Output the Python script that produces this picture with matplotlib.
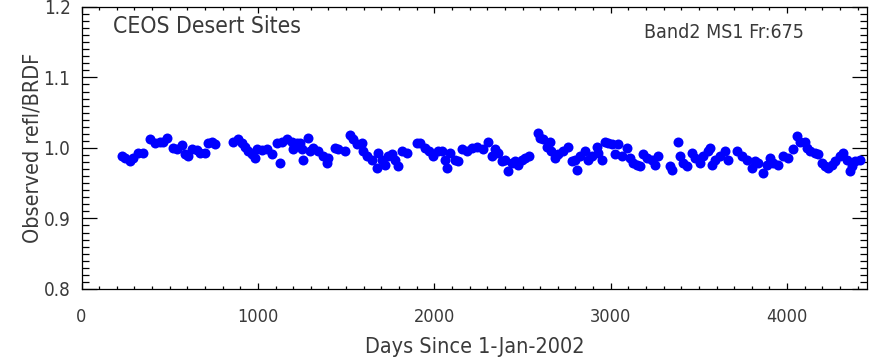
import matplotlib
matplotlib.use("Agg")
import matplotlib.pyplot as plt
from matplotlib.ticker import MultipleLocator

plt.rcParams['font.family'] = ['DejaVu Sans']
plt.rcParams['font.stretch'] = 'condensed'

days = [228, 247, 275, 294, 322, 351, 388, 417, 445, 464, 487, 521, 540, 568, 587, 606,
        625, 653, 672, 700, 719, 738, 757, 861, 889, 908, 927, 946, 965, 984, 993, 1022,
        1050, 1078, 1107, 1126, 1135, 1163, 1192, 1201, 1220, 1239, 1248, 1258, 1286, 1296,
        1314, 1343, 1371, 1390, 1400, 1437, 1456, 1494, 1522, 1541, 1560, 1589, 1598, 1617,
        1645, 1674, 1683, 1702, 1721, 1740, 1759, 1777, 1796, 1815, 1844, 1900, 1919, 1948,
        1967, 1995, 2023, 2042, 2061, 2071, 2090, 2118, 2137, 2156, 2184, 2212, 2241,
        2278, 2306, 2325, 2344, 2363, 2382, 2400, 2419, 2438, 2457, 2476, 2495, 2514, 2538,
        2589, 2599, 2618, 2637, 2656, 2660, 2684, 2703, 2731, 2760, 2778, 2797, 2807, 2826,
        2854, 2873, 2892, 2920, 2930, 2949, 2967, 2986, 3005, 3024, 3043, 3062, 3090, 3109,
        3128, 3147, 3166, 3185, 3204, 3232, 3251, 3270, 3336, 3345, 3383, 3393, 3412, 3431,
        3459, 3478, 3506, 3525, 3553, 3563, 3572, 3591, 3620, 3648, 3667, 3714, 3742, 3771,
        3799, 3818, 3837, 3865, 3884, 3903, 3922, 3950, 3979, 4007, 4035, 4054, 4073, 4101,
        4111, 4130, 4158, 4177, 4196, 4215, 4234, 4253, 4272, 4300, 4319, 4338, 4357, 4366,
        4385, 4413]

refl = [0.988, 0.986, 0.981, 0.986, 0.993, 0.993, 1.013, 1.007, 1.009, 1.009, 1.014, 1.000,
        0.999, 1.004, 0.991, 0.988, 0.998, 0.997, 0.993, 0.993, 1.007, 1.009, 1.005, 1.008,
        1.013, 1.007, 1.002, 0.995, 0.991, 0.986, 0.998, 0.997, 0.998, 0.991, 1.007, 0.979,
        1.009, 1.012, 1.009, 0.998, 1.007, 1.007, 0.998, 0.983, 1.014, 0.995, 1.000, 0.995,
        0.988, 0.979, 0.986, 1.000, 0.998, 0.995, 1.019, 1.012, 1.005, 1.007, 0.995, 0.988,
        0.983, 0.972, 0.993, 0.983, 0.976, 0.988, 0.991, 0.983, 0.974, 0.995, 0.993, 1.007,
        1.007, 1.000, 0.995, 0.988, 0.995, 0.995, 0.983, 0.972, 0.993, 0.983, 0.981, 0.998,
        0.995, 1.000, 1.002,
        0.998, 1.009, 0.988, 0.998, 0.993, 0.981, 0.983, 0.967, 0.979, 0.981, 0.976, 0.983,
        0.986, 0.988, 1.021, 1.014, 1.012, 1.002, 1.009, 0.995, 0.986, 0.991, 0.995, 1.002,
        0.981, 0.983, 0.969, 0.988, 0.995, 0.983, 0.988, 1.002, 0.993, 0.983, 1.009, 1.007,
        1.005, 0.991, 1.005, 0.988, 1.000, 0.986, 0.979, 0.976, 0.974, 0.991, 0.986, 0.983,
        0.976, 0.988, 0.974, 0.969, 1.009, 0.988, 0.979, 0.974, 0.993, 0.986, 0.979, 0.988,
        0.995, 1.000, 0.976, 0.983, 0.988, 0.995, 0.983, 0.995, 0.988, 0.983, 0.972, 0.981,
        0.979, 0.965, 0.976, 0.986, 0.979, 0.976, 0.988, 0.986, 0.998, 1.017, 1.009, 1.009,
        1.000, 0.995, 0.993, 0.991, 0.979, 0.974, 0.972, 0.976, 0.981, 0.988, 0.993, 0.983,
        0.967, 0.974, 0.981, 0.983]

x_ticks = [0, 1000, 2000, 3000, 4000]
y_ticks = [0.8, 0.9, 1.0, 1.1, 1.2]
title_left = "CEOS Desert Sites"
title_right = "Band2 MS1 Fr:675"
xlabel = "Days Since 1-Jan-2002"
ylabel = "Observed refl/BRDF"

txt = '#3a3a3a'
fig = plt.figure(figsize=(8.77, 3.63), dpi=100)
ax = fig.add_axes([0.093, 0.204, 0.8956, 0.777])
ax.plot(days, refl, 'o', color='#0000ff', ms=7.2, mec='#0000ff', mew=0)

ax.set_xlim(0, 4453)
ax.set_ylim(0.8, 1.2)
ax.set_xticks(x_ticks)
ax.set_xticklabels([str(v) for v in x_ticks])
ax.set_yticks(y_ticks)
ax.set_yticklabels([f"{v:.1f}" for v in y_ticks])
ax.xaxis.set_minor_locator(MultipleLocator(100))
ax.yaxis.set_minor_locator(MultipleLocator(0.01))
ax.tick_params(which='both', direction='in', top=True, right=True, color='black', width=0.9)
ax.tick_params(axis='x', which='major', length=4.3, pad=14, labelsize=13, labelcolor=txt)
ax.tick_params(axis='x', which='minor', length=2.2)
ax.tick_params(axis='y', which='major', length=10.8, pad=8, labelsize=13.5, labelcolor=txt)
ax.tick_params(axis='y', which='minor', length=5.2)
for s in ax.spines.values():
    s.set_linewidth(0.9)

ax.set_xlabel(xlabel, fontsize=15.5, color=txt)
ax.set_ylabel(ylabel, fontsize=15.5, color=txt)
ax.xaxis.set_label_coords(0.5, -0.17)
ax.yaxis.set_label_coords(-0.05, 0.5)
ax.text(0.04, 0.972, title_left, transform=ax.transAxes, fontsize=16.5, color=txt,
        ha='left', va='top')
ax.text(0.92, 0.943, title_right, transform=ax.transAxes, fontsize=14, color=txt,
        ha='right', va='top')

fig.savefig('out.png', dpi=100)
